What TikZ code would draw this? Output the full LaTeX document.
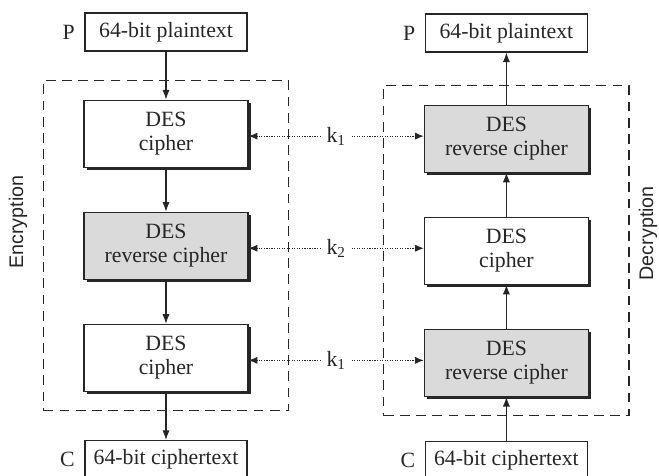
\documentclass[tikz,border=0pt]{standalone}
\usepackage{fontspec}
\setmainfont{Liberation Serif}
\newfontfamily\sidefont{Liberation Sans}
\usepackage{tikz}
\usetikzlibrary{positioning,arrows.meta,calc,fit,shadows}
\definecolor{ink}{HTML}{262626}
\definecolor{speckle}{HTML}{DADADA}
\tikzset{
  desbox/.style={draw=ink,fill=white,thick,minimum width=41mm,minimum height=16.75mm,inner sep=2pt,align=center,
    drop shadow={shadow xshift=2pt,shadow yshift=-2pt,fill=ink,opacity=1}},
  revbox/.style={desbox,fill=speckle},
  textbox/.style={draw=ink,thick,minimum width=40.5mm,minimum height=9.5mm,inner sep=2pt},
  tag/.style={inner sep=1pt},
  frame/.style={draw=ink,thick,dash pattern=on 7pt off 4.5pt,inner xsep=10mm,inner ysep=4.75mm},
  flow/.style={-{Latex[length=2.4mm,width=1.8mm]},draw=ink,thick},
  keyflow/.style={-{Latex[length=2.2mm,width=1.8mm]},draw=ink,thick,densely dotted},
  keylbl/.style={inner xsep=4pt,inner ysep=1pt},
  sidelbl/.style={font=\sidefont\fontsize{14}{16}\selectfont,text=ink,rotate=90}}
\begin{document}
\begin{tikzpicture}[font=\fontsize{15.5}{17}\selectfont,node distance=11mm,text=ink]
  \useasboundingbox (0,0) rectangle (16.475,-11.9);
  % encryption
  \node[textbox] (ptL) at (4.15,-0.8) {64-bit plaintext};
  \node[desbox,below=12mm of ptL] (c1L) {DES\\cipher};
  \node[revbox,below=of c1L] (rL) {DES\\reverse cipher};
  \node[desbox,below=of rL] (c2L) {DES\\cipher};
  \node[textbox,below=12mm of c2L] (ctL) {64-bit ciphertext};
  \node[tag,left=2mm of ptL] (pL) {P};
  \node[tag,left=2mm of ctL] (cL) {C};
  \node[frame,fit=(c1L)(c2L)] (encL) {};
  \node[sidelbl] (encT) at (0.45,-5.55) {Encryption};
  % decryption
  \node[textbox] (ptR) at (12.66,-0.825) {64-bit plaintext};
  \node[revbox,below=13mm of ptR] (r1R) {DES\\reverse cipher};
  \node[desbox,below=of r1R] (cR) {DES\\cipher};
  \node[revbox,below=of cR] (r2R) {DES\\reverse cipher};
  \node[textbox,below=of r2R] (ctR) {64-bit ciphertext};
  \node[tag,left=2mm of ptR] (pR) {P};
  \node[tag,left=2mm of ctR] (cR0) {C};
  \node[frame,fit=(r1R)(r2R)] (decR) {};
  \node[sidelbl] (decT) at (16.2,-5.83) {Decryption};
  % data flow
  \draw[flow] (ptL)--(c1L);
  \draw[flow] (c1L)--(rL);
  \draw[flow] (rL)--(c2L);
  \draw[flow] (c2L)--(ctL);
  \draw[flow] (ctR)--(r2R);
  \draw[flow] (r2R)--(cR);
  \draw[flow] (cR)--(r1R);
  \draw[flow] (r1R)--(ptR);
  % keys
  \node[keylbl] (k1) at ($(c1L.east)!0.5!(r1R.west)$) {k\textsubscript{1}};
  \node[keylbl] (k2) at ($(rL.east)!0.5!(cR.west)$) {k\textsubscript{2}};
  \node[keylbl] (k3) at ($(c2L.east)!0.5!(r2R.west)$) {k\textsubscript{1}};
  \draw[keyflow] (k1.west)--(k1.west -| c1L.east);
  \draw[keyflow] (k1.east)--(k1.east -| r1R.west);
  \draw[keyflow] (k2.west)--(k2.west -| rL.east);
  \draw[keyflow] (k2.east)--(k2.east -| cR.west);
  \draw[keyflow] (k3.west)--(k3.west -| c2L.east);
  \draw[keyflow] (k3.east)--(k3.east -| r2R.west);
\end{tikzpicture}
\end{document}
